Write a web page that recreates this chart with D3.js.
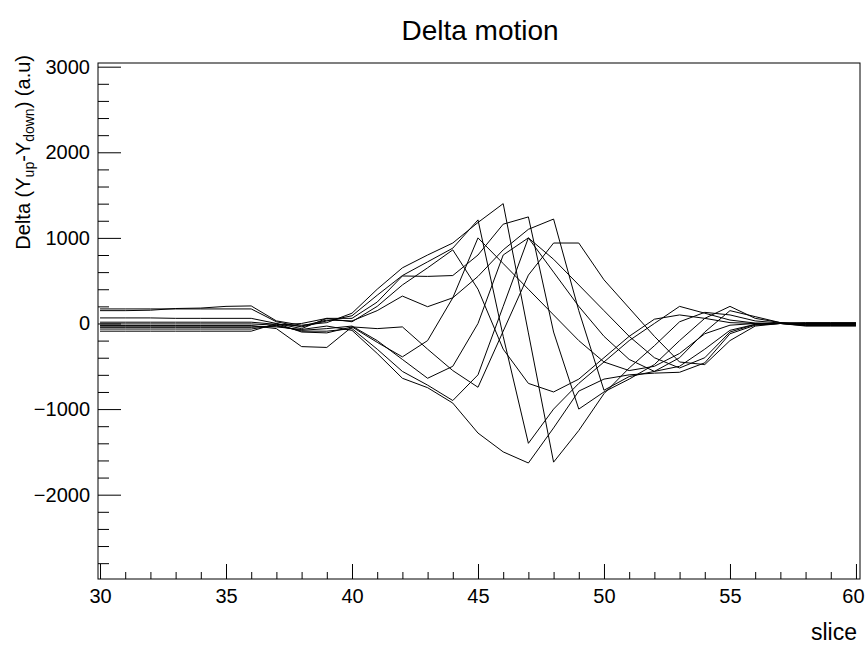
<!DOCTYPE html>
<html>
<head>
<meta charset="utf-8">
<script src="https://cdn.jsdelivr.net/npm/d3@7"></script>
<style>
  body { margin: 0; background: #fff; }
  svg text { font-family: "Liberation Sans", Arial, Helvetica, sans-serif; fill: #000; }
</style>
</head>
<body>
<div id="chart"></div>
<script>
// slice numbers on the x axis
var slices = [30,31,32,33,34,35,36,37,38,39,40,41,42,43,44,45,46,47,48,49,50,51,52,53,54,55,56,57,58,59,60];

// one trace per time step, Delta value at each slice
var trace1  = [170,170,170,170,170,170,170,20,-40,30,90,330,560,720,880,1210,-150,-1400,-1000,-700,-450,-200,0,200,120,40,5,0,-10,-10,-10];
var trace2  = [150,150,155,175,180,200,205,30,-20,10,120,400,650,800,940,1180,1400,-110,-1620,-1250,-820,-520,-260,20,130,100,30,5,0,0,0];
var trace3  = [65,65,65,60,60,60,60,0,-60,60,60,250,555,550,560,800,1160,1245,-100,-1000,-800,-650,-480,-200,60,200,60,10,0,0,0];
var trace4  = [15,15,15,15,15,15,15,-10,-30,40,30,150,320,196,300,550,860,1100,1220,150,-780,-620,-560,-400,-100,150,80,10,-20,-20,-20];
var trace5  = [-5,-5,-5,-5,-5,-5,-5,-20,0,60,20,200,450,650,860,400,-300,-700,-800,-650,-400,-150,50,100,60,10,0,0,-30,-30,-30];
var trace6  = [-30,-30,-30,-30,-30,-30,-30,-40,-70,-30,-80,-350,-640,-750,-930,-1280,-1500,-1630,-1220,-790,-650,-600,-580,-570,-460,-120,-20,0,5,5,5];
var trace7  = [-90,-90,-90,-90,-90,-90,-90,0,-100,-110,-40,-60,-40,-300,-550,-745,-90,565,940,940,510,180,-150,-450,-480,-200,-30,0,-25,-25,-25];
var trace8  = [-65,-65,-65,-65,-65,-65,-65,-20,-90,-90,-60,-300,-560,-720,-900,-600,200,1000,750,450,150,-150,-400,-520,-400,-100,-10,0,-15,-15,-15];
var trace9  = [-25,-25,-25,-25,-25,-25,-25,-60,-270,-280,-40,-220,-390,-200,300,1000,700,400,100,-200,-450,-550,-500,-350,-120,-20,0,0,10,10,10];
var trace10 = [-45,-45,-45,-45,-45,-45,-45,-30,-80,-60,-30,-200,-420,-640,-500,0,800,1000,600,200,-150,-420,-560,-500,-300,-80,-10,0,-5,-5,-5];

var traces = [trace1, trace2, trace3, trace4, trace5, trace6, trace7, trace8, trace9, trace10];

// tick values
var xMajor = [30,35,40,45,50,55,60];
var yMajor = [-2000,-1000,0,1000,2000,3000];

var width = 866, height = 646;
var frame = { left: 98, right: 860, top: 63, bottom: 579 };

var svg = d3.select("#chart").append("svg")
    .attr("width", width)
    .attr("height", height);

var x = d3.scaleLinear().domain([29.92, 60.16]).range([frame.left, frame.right]);
var y = d3.scaleLinear().domain([-2985, 3043]).range([frame.bottom, frame.top]);

var xMinor = d3.range(30, 61, 1).filter(function(d) { return xMajor.indexOf(d) < 0; });
var yMinor = d3.range(-2800, 3001, 200).filter(function(d) { return yMajor.indexOf(d) < 0; });

// frame
svg.append("rect")
    .attr("x", frame.left)
    .attr("y", frame.top)
    .attr("width", frame.right - frame.left)
    .attr("height", frame.bottom - frame.top)
    .attr("fill", "none")
    .attr("stroke", "#000")
    .attr("stroke-width", 1);

// x axis, ticks pointing into the frame
svg.append("g")
    .attr("transform", "translate(0," + frame.bottom + ")")
    .call(d3.axisBottom(x).tickValues(xMajor).tickSize(-15).tickPadding(9).tickFormat(d3.format("d")))
    .call(function(g) { g.select(".domain").remove(); })
    .call(function(g) {
        g.selectAll("text").attr("font-size", 20).attr("dy", "0.74em");
        g.selectAll("text").filter(function(d) { return d === 60; }).attr("dx", -3);  // keep the last label inside
    });

svg.append("g")
    .attr("transform", "translate(0," + frame.bottom + ")")
    .call(d3.axisBottom(x).tickValues(xMinor).tickSize(-7).tickFormat(""))
    .call(function(g) { g.select(".domain").remove(); });

// y axis
svg.append("g")
    .attr("transform", "translate(" + frame.left + ",0)")
    .call(d3.axisLeft(y).tickValues(yMajor).tickSize(-23).tickPadding(8).tickFormat(d3.format("d")))
    .call(function(g) { g.select(".domain").remove(); })
    .call(function(g) { g.selectAll("text").attr("font-size", 20); });

svg.append("g")
    .attr("transform", "translate(" + frame.left + ",0)")
    .call(d3.axisLeft(y).tickValues(yMinor).tickSize(-11).tickFormat(""))
    .call(function(g) { g.select(".domain").remove(); });

svg.selectAll(".tick line").attr("stroke", "#000");

// traces
var line = d3.line()
    .x(function(d, i) { return x(slices[i]); })
    .y(function(d) { return y(d); });

svg.append("g")
    .selectAll("path.trace")
    .data(traces)
    .enter().append("path")
    .attr("class", "trace")
    .attr("d", line)
    .attr("fill", "none")
    .attr("stroke", "#000")
    .attr("stroke-width", 1);

// titles
svg.append("text")
    .attr("x", 480)
    .attr("y", 40)
    .attr("text-anchor", "middle")
    .attr("font-size", 28)
    .text("Delta motion");

svg.append("text")
    .attr("x", 857)
    .attr("y", 640)
    .attr("text-anchor", "end")
    .attr("font-size", 23)
    .text("slice");

var yTitle = svg.append("text")
    .attr("transform", "translate(30,55) rotate(-90)")
    .attr("text-anchor", "end")
    .attr("font-size", 20);
yTitle.append("tspan").text("Delta (Y");
yTitle.append("tspan").attr("font-size", 14).attr("dy", 4).text("up");
yTitle.append("tspan").attr("dy", -4).text("-Y");
yTitle.append("tspan").attr("font-size", 14).attr("dy", 4).text("down");
yTitle.append("tspan").attr("dy", -4).text(") (a.u)");
</script>
</body>
</html>
